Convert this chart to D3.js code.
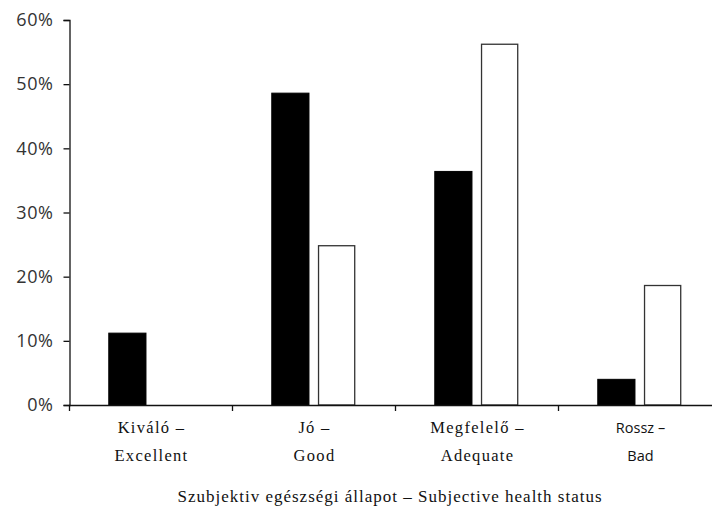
<!DOCTYPE html>
<html>
<head>
<meta charset="utf-8">
<script src="https://cdn.jsdelivr.net/npm/d3@7"></script>
<style>
  html, body { margin: 0; padding: 0; background: #fff; }
  svg { display: block; }
</style>
</head>
<body>
<script>
const categoriesLine1 = ["Kiváló –", "Jó –", "Megfelelő –", "Rossz –"];
const categoriesLine2 = ["Excellent", "Good", "Adequate", "Bad"];
const categories = ["Kiváló – Excellent", "Jó – Good", "Megfelelő – Adequate", "Rossz – Bad"];
const seriesBlack = [11.2, 48.6, 36.4, 4.0];
const seriesWhite = [0, 24.9, 56.3, 18.7];
const yTicks = [0, 10, 20, 30, 40, 50, 60];
const xTitle = "Szubjektiv egészségi állapot – Subjective health status";

const W = 712, H = 510;
const svg = d3.select("body").append("svg").attr("width", W).attr("height", H);

const x0 = d3.scaleBand().domain(categories).range([69, 721]).paddingInner(0).paddingOuter(0);
const x1 = d3.scaleBand().domain(["a", "b"]).range([0, x0.bandwidth()]).paddingInner(0.196).paddingOuter(0.86);
const y = d3.scaleLinear().domain([0, 60]).range([405, 20]);

const g = svg.append("g");

// bars
categories.forEach((c, i) => {
  g.append("rect")
    .attr("x", x0(c) + x1("a"))
    .attr("y", y(seriesBlack[i]))
    .attr("width", x1.bandwidth())
    .attr("height", y(0) - y(seriesBlack[i]))
    .attr("fill", "#000").attr("stroke", "#000").attr("stroke-width", 1);
  if (seriesWhite[i] > 0) {
    g.append("rect")
      .attr("x", x0(c) + x1("b") + 0.5)
      .attr("y", y(seriesWhite[i]) + 0.5)
      .attr("width", x1.bandwidth() - 1)
      .attr("height", y(0) - y(seriesWhite[i]) - 0.5)
      .attr("fill", "#fff").attr("stroke", "#333").attr("stroke-width", 1.3);
  }
});

// y axis
const yAxis = d3.axisLeft(y).tickValues(yTicks).tickFormat(d => d + "%").tickSizeInner(6).tickSizeOuter(6).tickPadding(10);
const ya = svg.append("g").attr("transform", "translate(69.5,0)").call(yAxis);
ya.select(".domain").attr("stroke", "#111").attr("stroke-width", 1.3);
ya.selectAll(".tick line").attr("stroke", "#111").attr("stroke-width", 1.3);
ya.selectAll(".tick text").attr("font-family", "'Open Sans', sans-serif").attr("font-size", 18)
  .attr("fill", "#333").attr("letter-spacing", "0.6px");

// x axis line
svg.append("line").attr("x1", 69).attr("x2", 712).attr("y1", 405.5).attr("y2", 405.5)
  .attr("stroke", "#111").attr("stroke-width", 1.3);
// category boundary ticks
const bounds = categories.map(c => x0(c));
svg.selectAll(".ctick").data(bounds).enter().append("line")
  .attr("x1", d => Math.round(d) + 0.5).attr("x2", d => Math.round(d) + 0.5)
  .attr("y1", 405).attr("y2", 411).attr("stroke", "#111").attr("stroke-width", 1.3);

// category labels
categories.forEach((c, i) => {
  const cx = x0(c) + x0.bandwidth() / 2;
  const sans = i === 3;
  const t = svg.append("text").attr("text-anchor", "middle")
    .attr("font-family", sans ? "'Open Sans', sans-serif" : "'Liberation Serif', serif")
    .attr("font-size", sans ? 14.5 : 16.5)
    .attr("letter-spacing", sans ? "0px" : "1.3px")
    .attr("fill", "#111");
  t.append("tspan").attr("x", cx + 1).attr("y", 433).text(categoriesLine1[i]);
  t.append("tspan").attr("x", cx + 1).attr("y", 461).text(categoriesLine2[i]);
});

// x title
svg.append("text").attr("x", 390).attr("y", 502).attr("text-anchor", "middle")
  .attr("font-family", "'Liberation Serif', serif").attr("font-size", 17)
  .attr("letter-spacing", "1px").attr("fill", "#111").text(xTitle);
</script>
</body>
</html>
